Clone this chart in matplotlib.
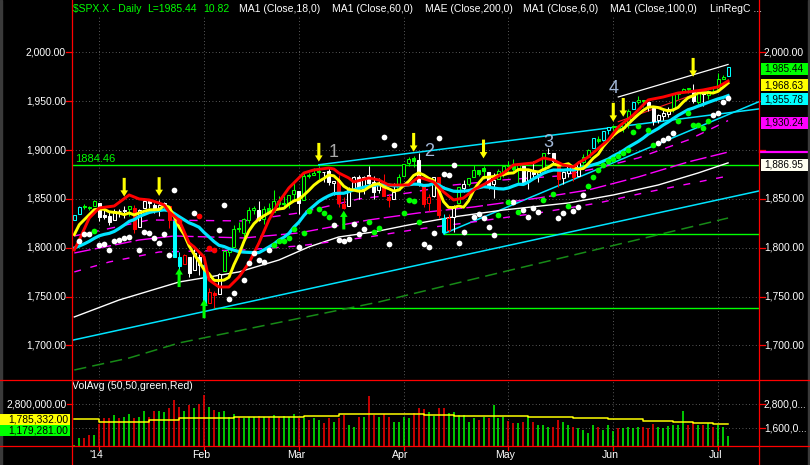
import numpy as np
import pandas as pd
import matplotlib
matplotlib.use('Agg')
import matplotlib.pyplot as plt
import matplotlib.transforms as mtransforms
from matplotlib.patches import Rectangle
from matplotlib.lines import Line2D

plt.rcParams['font.family'] = ['Liberation Sans', 'DejaVu Sans']

# trading days on the chart: 2013-12-24 .. 2014-07-03
holidays = ['2013-12-25', '2014-01-01', '2014-01-20', '2014-02-17', '2014-04-18', '2014-05-26']
days = pd.bdate_range('2013-12-24', '2014-07-03')
days = days[~days.isin(pd.to_datetime(holidays))]

# closes before the window (Nov 29 .. Dec 23), only to warm up MA6 / MA18
warmup_close = [1805.81, 1800.90, 1795.15, 1792.81, 1785.03, 1805.09, 1808.37, 1802.62, 1782.22,
                1775.50, 1775.32, 1786.54, 1781.00, 1810.65, 1809.60, 1818.32, 1827.99]

opens = [1828.00, 1834.96, 1842.97, 1841.47, 1842.61,
         1845.86, 1833.21, 1832.31, 1828.71, 1837.90, 1839.00, 1840.06, 1841.26, 1821.36, 1840.52, 1847.99,
         1844.23, 1841.05, 1844.71, 1842.29, 1826.96, 1791.03, 1783.00, 1790.15, 1777.17, 1790.88,
         1782.68, 1743.82, 1753.38, 1752.99, 1776.01, 1796.20, 1800.45, 1820.12, 1814.82, 1828.46,
         1839.03, 1838.90, 1829.24, 1841.07, 1836.78, 1847.66, 1845.79, 1844.90, 1855.12,
         1857.68, 1849.23, 1874.05, 1874.18, 1878.52, 1877.86, 1878.26, 1866.15, 1869.06, 1845.07, 1842.81,
         1858.92, 1872.25, 1860.09, 1874.53, 1867.67, 1859.48, 1867.09, 1852.11, 1850.07, 1859.16,
         1873.96, 1886.61, 1891.43, 1890.25, 1863.92, 1845.48, 1852.64, 1872.28, 1830.65, 1818.18, 1831.45,
         1846.01, 1861.73, 1865.79, 1872.57, 1879.32, 1881.97, 1877.72, 1865.00, 1870.78, 1877.10,
         1884.39, 1885.30, 1879.45, 1883.69, 1868.53, 1877.39, 1875.27, 1880.03, 1896.75, 1897.13, 1888.16,
         1871.19, 1876.66, 1884.88, 1873.34, 1888.19, 1893.32, 1902.01, 1911.77, 1910.60, 1920.33,
         1923.87, 1923.07, 1923.06, 1928.52, 1942.41, 1948.97, 1950.34, 1949.37, 1943.35, 1930.80, 1934.84,
         1937.15, 1942.73, 1957.50, 1960.45, 1962.92, 1961.97, 1949.27, 1959.89, 1956.56, 1960.79,
         1962.29, 1973.06, 1975.88]
highs = [1833.32, 1842.84, 1844.89, 1842.47, 1849.44,
         1845.86, 1838.24, 1837.16, 1840.10, 1840.02, 1843.23, 1843.15, 1843.45, 1839.26, 1850.84, 1847.99,
         1846.04, 1849.31, 1846.87, 1842.29, 1826.96, 1795.98, 1793.87, 1790.15, 1798.77, 1793.88,
         1784.83, 1758.73, 1755.79, 1774.06, 1798.03, 1799.94, 1823.54, 1826.55, 1830.25, 1841.65,
         1842.87, 1847.50, 1842.79, 1846.13, 1858.71, 1852.91, 1852.65, 1854.53, 1867.92,
         1857.68, 1876.23, 1876.53, 1881.94, 1883.57, 1877.87, 1882.35, 1868.38, 1874.40, 1852.44, 1862.30,
         1873.76, 1874.14, 1873.49, 1883.97, 1873.34, 1871.87, 1875.92, 1855.55, 1866.63, 1875.18,
         1885.84, 1893.17, 1893.80, 1897.28, 1864.04, 1854.95, 1872.43, 1872.53, 1835.07, 1834.19, 1844.02,
         1862.31, 1869.63, 1871.89, 1884.89, 1879.75, 1884.06, 1877.72, 1877.01, 1880.60, 1885.20,
         1888.59, 1891.33, 1885.51, 1883.69, 1878.83, 1889.07, 1878.57, 1897.13, 1902.17, 1897.13, 1888.16,
         1878.28, 1886.00, 1884.88, 1888.80, 1896.33, 1901.26, 1912.28, 1914.46, 1920.03, 1924.03,
         1925.88, 1925.07, 1928.63, 1941.74, 1949.44, 1955.55, 1950.86, 1949.37, 1943.35, 1937.30, 1941.15,
         1943.69, 1957.74, 1959.87, 1963.91, 1963.74, 1968.17, 1960.83, 1959.89, 1961.47, 1964.24,
         1978.58, 1976.67, 1985.59]
lows = [1828.00, 1834.96, 1839.81, 1838.77, 1842.41,
        1827.74, 1829.13, 1823.73, 1828.71, 1831.40, 1830.38, 1832.43, 1815.52, 1821.36, 1840.52, 1840.30,
        1835.23, 1832.38, 1840.88, 1820.06, 1790.29, 1772.88, 1783.00, 1770.45, 1777.17, 1772.26,
        1739.66, 1743.82, 1737.92, 1752.99, 1776.01, 1791.83, 1800.41, 1815.97, 1809.22, 1825.59,
        1835.01, 1826.99, 1824.58, 1835.60, 1836.78, 1840.19, 1840.66, 1841.13, 1847.67,
        1834.44, 1849.23, 1871.11, 1874.18, 1870.56, 1867.04, 1863.88, 1854.38, 1841.86, 1839.57, 1842.81,
        1858.92, 1850.35, 1854.63, 1863.46, 1849.69, 1855.96, 1852.56, 1842.11, 1850.07, 1859.16,
        1873.96, 1883.79, 1882.65, 1863.26, 1841.48, 1837.49, 1852.38, 1830.87, 1814.36, 1815.80, 1816.29,
        1846.01, 1856.72, 1863.18, 1872.57, 1873.91, 1870.24, 1859.70, 1850.61, 1870.78, 1872.69,
        1878.04, 1878.50, 1866.77, 1867.72, 1859.79, 1870.05, 1867.02, 1880.03, 1896.06, 1885.77, 1862.36,
        1864.82, 1872.42, 1868.14, 1873.34, 1885.39, 1893.32, 1902.01, 1907.30, 1909.82, 1916.64,
        1915.98, 1918.79, 1918.60, 1922.93, 1942.41, 1947.16, 1944.64, 1940.08, 1925.78, 1927.69, 1930.91,
        1933.55, 1939.29, 1952.26, 1959.17, 1958.89, 1948.34, 1947.49, 1944.69, 1952.18, 1958.22,
        1962.29, 1972.58, 1975.88]
closes = [1833.32, 1842.02, 1841.40, 1841.07, 1848.36,
          1831.98, 1831.37, 1826.77, 1837.88, 1837.49, 1838.13, 1842.37, 1819.20, 1838.88, 1848.38, 1845.89,
          1838.70, 1843.80, 1844.86, 1828.46, 1790.29, 1781.56, 1792.50, 1774.20, 1794.19, 1782.59,
          1741.89, 1755.20, 1751.64, 1773.43, 1797.02, 1799.84, 1819.75, 1819.26, 1829.83, 1838.63,
          1840.76, 1828.75, 1839.78, 1836.25, 1847.61, 1845.12, 1845.16, 1854.29, 1859.45,
          1845.73, 1873.91, 1873.81, 1877.03, 1878.04, 1877.17, 1867.63, 1868.20, 1846.34, 1841.13, 1858.83,
          1872.25, 1860.77, 1872.01, 1866.52, 1857.44, 1865.62, 1852.56, 1849.04, 1857.62, 1872.34,
          1885.52, 1890.90, 1888.77, 1865.09, 1845.04, 1851.96, 1872.18, 1833.08, 1815.69, 1830.61, 1842.98,
          1862.31, 1864.85, 1871.89, 1879.55, 1875.39, 1878.61, 1863.40, 1869.43, 1878.33, 1883.95,
          1883.68, 1881.14, 1884.66, 1867.72, 1878.21, 1875.63, 1878.48, 1896.65, 1897.45, 1888.53, 1870.85,
          1877.86, 1885.08, 1872.83, 1888.03, 1892.49, 1900.53, 1911.91, 1909.78, 1920.03, 1923.57,
          1924.97, 1924.24, 1927.88, 1940.46, 1949.44, 1951.27, 1950.79, 1943.89, 1930.11, 1936.16, 1937.78,
          1941.99, 1956.98, 1959.48, 1962.87, 1962.61, 1949.98, 1959.53, 1957.22, 1960.96, 1960.23,
          1973.32, 1974.62, 1985.44]

# candle colours as drawn by the charting package (c=cyan g=green w=white r=red)
candle_code = ("ccggg" + "wwwwwwgrwwwwwwrccrwww" + "crrwgggggggwggggggg" + "wggggwwwrrwwwwwwwrrwg"
               + "gggwrrwrcrwgwggggwwgg" + "gggwwwwgwwrwwrwggcgcc" + "ggggcggwwwwwggggwgwgg" + "ggc")

# volume (millions, same units as the panel labels)
volume = [0.75, 1.08, 1.08, 1.25, 1.25,
          1.78, 2.08, 2.12, 2.25, 2.12, 2.17, 2.28, 2.12, 2.17, 2.45, 2.17, 2.45, 2.45, 2.42, 2.58, 3.0,
          2.67, 2.45, 2.75, 2.58, 2.78,
          3.25, 2.67, 2.5, 2.38, 2.45, 2.17, 2.28, 2.17, 2.12, 2.17, 2.17, 2.22, 2.17, 2.17, 2.25, 2.17,
          2.22, 2.17, 2.28,
          2.12, 2.08, 2.0, 2.08, 2.0, 1.83, 2.08, 1.92, 2.12, 2.25, 1.75, 1.67, 2.17, 2.17, 3.22, 2.25,
          2.17, 2.28, 2.17, 1.92, 1.92,
          2.17, 2.12, 2.33, 2.58, 2.53, 2.42, 2.22, 2.58, 2.58, 2.33, 2.38, 2.25, 2.25, 1.92, 2.12, 2.0,
          2.17, 2.12, 2.75, 2.12, 2.17,
          1.95, 1.87, 1.83, 1.92, 2.17, 1.92, 1.75, 1.75, 1.67, 1.67, 2.0, 1.92, 1.75, 1.67, 1.62, 1.5,
          1.33, 1.75, 1.67, 1.5, 1.75,
          1.45, 1.58, 1.62, 1.67, 1.58, 1.67, 1.67, 1.58, 1.78, 1.67, 1.62, 1.72, 1.75, 1.75, 2.45, 1.75,
          1.92, 1.75, 1.75, 1.83, 1.67,
          1.75, 1.67, 1.179281]
volavg_bar = [0, 5, 15, 21, 27, 32, 46, 53, 70, 76, 91, 100, 107, 114, 120, 124, 128, 131]
volavg_val = [2.03, 1.92, 2.0, 2.08, 2.12, 2.17, 2.2, 2.28, 2.25, 2.22, 2.17, 2.12, 2.03, 1.97, 1.88,
              1.83, 1.785332, 1.785332]

# other studies (bar number, price)
red_bar = [0, 1, 3, 5, 8, 11, 13, 15, 17, 18, 19, 21, 23, 24, 26, 27, 29, 31, 33, 35, 37, 39, 41, 43,
           46, 48, 51, 52, 53, 55, 56, 59, 61, 63, 67, 69, 72, 74, 76, 78, 80, 83, 86, 88, 92, 94, 96,
           98, 100, 101, 103, 107, 109, 112, 115, 118, 121, 123, 126, 129, 131]
red_val = [1797.8, 1808.0, 1830.5, 1840.8, 1842.8, 1854.1, 1850.0, 1849.0, 1845.9, 1843.9, 1836.7,
           1828.5, 1805.0, 1800.9, 1790.6, 1767.1, 1759.9, 1759.9, 1770.1, 1784.5, 1804.9, 1828.5,
           1846.9, 1861.3, 1876.6, 1879.7, 1881.7, 1880.7, 1876.6, 1871.5, 1867.4, 1871.5, 1869.5,
           1864.3, 1864.3, 1872.5, 1867.4, 1857.2, 1849.0, 1851.0, 1859.2, 1867.4, 1876.6, 1884.8,
           1886.9, 1892.0, 1889.9, 1884.8, 1882.8, 1886.9, 1893.0, 1910.4, 1923.7, 1936.0, 1951.4,
           1954.4, 1958.5, 1959.6, 1961.6, 1964.7, 1970.8]
ma100_bar = [0, 9, 21, 33, 41, 47, 53, 60, 67, 76, 86, 99, 108, 117, 125, 131]
ma100_val = [1729.2, 1746.6, 1765.0, 1775.3, 1787.5, 1800.9, 1811.1, 1816.2, 1823.4, 1831.6, 1838.7,
             1845.9, 1854.1, 1864.3, 1876.6, 1886.95]
ma200_bar = [0, 11, 21, 61, 85, 131]
ma200_val = [1674.9, 1687.2, 1702.6, 1744.5, 1774.2, 1830.5]
mag_up_bar = [0, 15, 34, 45, 57, 67, 76, 86, 97, 105, 113, 123, 131]
mag_up_val = [1812.1, 1828.5, 1827.5, 1835.7, 1850.0, 1856.2, 1864.3, 1869.5, 1873.5, 1881.7, 1892.0,
              1910.4, 1930.24]
mag_mid_bar = [0, 13, 20, 34, 45, 59, 69, 80, 93, 103, 113, 123, 131]
mag_mid_val = [1794.7, 1808.0, 1812.1, 1810.1, 1815.2, 1828.5, 1835.7, 1841.8, 1851.0, 1859.2, 1872.5,
               1887.9, 1898.0]
mag_lo_bar = [0, 7, 17, 34, 45, 59, 69, 80, 93, 105, 115, 125, 131]
mag_lo_val = [1775.3, 1785.5, 1795.7, 1797.8, 1801.9, 1811.1, 1819.3, 1826.5, 1835.7, 1845.9, 1857.2,
              1867.4, 1873.5]

trend_lo_bar, trend_lo_val = [-0.46, 137.2], [1705.3, 1858.2]
trend_mid_bar, trend_mid_val = [74, 137.2], [1814.4, 1949.6]
trend_up_bar, trend_up_val = [49, 137.2], [1885.0, 1942.2]
chan_up_bar, chan_up_val = [109, 131], [1954.4, 1987.7]
chan_mid_bar, chan_mid_val = [109, 131], [1929.1, 1969.5]
level_val = [1884.46, 1737.92, 1814.36]
level_start = [-0.46, 28, 74]

white_dot_bar = [1, 2, 3, 5, 6, 7, 8, 9, 10, 11, 13, 14, 15, 16, 17, 18, 19, 20, 24, 29, 30, 31, 32,
                 34, 35, 36, 37, 38, 39, 45, 52, 53, 54, 55, 56, 57, 58, 62, 63, 64, 70, 71, 72, 73, 74,
                 75, 76, 77, 78, 80, 81, 82, 83, 84, 88, 90, 91, 92, 93, 97, 98, 100, 101, 102, 117,
                 118, 119, 120, 128, 129, 130, 131]
white_dot_val = [1807.0, 1814.2, 1814.2, 1802.9, 1803.9, 1797.8, 1807.0, 1808.0, 1810.1, 1811.1,
                 1797.8, 1816.2, 1815.2, 1810.1, 1804.9, 1814.2, 1792.7, 1859.2, 1835.7, 1818.3,
                 1843.9, 1747.6, 1753.7, 1767.1, 1784.5, 1794.7, 1787.5, 1785.5, 1797.8, 1800.9,
                 1822.9, 1807.5, 1807.0, 1809.0, 1824.4, 1814.2, 1819.3, 1913.5, 1803.9, 1905.3,
                 1803.9, 1800.9, 1815.2, 1912.4, 1875.6, 1874.1, 1884.8, 1804.9, 1816.2, 1831.9,
                 1834.3, 1830.9, 1821.8, 1812.8, 1847.4, 1838.7, 1831.3, 1840.5, 1836.4, 1830.2,
                 1835.4, 1837.7, 1841.5, 1853.6, 1907.0, 1910.4, 1912.1, 1917.6, 1935.7, 1938.1,
                 1949.6, 1953.7]
green_dot_bar = [4, 40, 41, 42, 43, 44, 46, 47, 49, 50, 51, 59, 60, 61, 66, 67, 68, 69, 85, 87, 89, 94,
                 96, 99, 103, 104, 105, 106, 107, 108, 109, 110, 111, 112, 113, 115, 116, 121, 123,
                 124, 125, 126, 127]
green_dot_val = [1817.2, 1802.6, 1807.0, 1807.3, 1809.6, 1819.0, 1814.9, 1837.4, 1839.5, 1835.4,
                 1831.9, 1826.5, 1815.7, 1820.0, 1835.4, 1849.0, 1848.2, 1826.5, 1833.3, 1847.0,
                 1836.7, 1848.7, 1854.9, 1842.5, 1863.0, 1872.8, 1880.0, 1884.3, 1888.6, 1890.8,
                 1893.8, 1897.2, 1900.2, 1918.9, 1925.2, 1920.6, 1905.6, 1929.9, 1938.1, 1925.8,
                 1925.8, 1922.4, 1930.1]
red_dot_bar = [21, 25, 27, 28]
red_dot_val = [1827.8, 1832.6, 1799.5, 1797.8]

down_arrow_bar = [10, 17, 49, 68, 82, 108, 110, 124]
down_arrow_val = [1852.4, 1853.1, 1888.2, 1898.4, 1891.6, 1929.2, 1934.2, 1975.2]
up_arrow_bar = [21, 26, 54]
up_arrow_val = [1779.0, 1747.1, 1838.0]
wave_labels = ['1', '2', '3', '4']
wave_bar = [52, 71, 95, 108]
wave_val = [1898.0, 1899.0, 1907.3, 1963.6]

price_ticks = [1700, 1750, 1800, 1850, 1900, 1950, 2000]
right_price_ticks = [1700, 1750, 1800, 1850, 2000]   # the others sit behind the value boxes
month_labels = ["'14", 'Feb', 'Mar', 'Apr', 'May', 'Jun', 'Jul']

# ------------------------------------------------------------------
W, H = 810, 465
fig = plt.figure(figsize=(W / 100, H / 100), dpi=100, facecolor='black')


def fx(px):
    return px / W


def fy(py):
    return 1 - py / H


ax = fig.add_axes([fx(72), fy(378), fx(759) - fx(72), fy(17) - fy(378)])
axv = fig.add_axes([fx(72), fy(446), fx(759) - fx(72), fy(381) - fy(446)])
for a in (ax, axv):
    a.set_facecolor('black')
    a.set_xticks([])
    a.set_yticks([])
    for s in a.spines.values():
        s.set_visible(False)
    a.set_xlim(-0.46, 137.2)
ax.set_ylim(1666.7, 2036.3)
axv.set_ylim(0.7e6, 3.95e6)

bar = np.arange(len(closes))
o, hi, lo, c = map(np.array, (opens, highs, lows, closes))
prev = np.r_[warmup_close[-1], c[:-1]]
month_start = [i for i in range(1, len(days)) if days[i].month != days[i - 1].month]

grid_kw = dict(color='#777777', lw=0.6, ls=(0, (1, 3)), zorder=0)
for p in price_ticks:
    ax.axhline(p, **grid_kw)
for m in month_start:
    ax.axvline(m, **grid_kw)
    axv.axvline(m, **grid_kw)
for v in (2.8e6, 1.6e6):
    axv.axhline(v, **grid_kw)

# levels and trend lines
for v, s in zip(level_val, level_start):
    ax.plot([s, 137.2], [v, v], color='#00ff00', lw=1.0, zorder=2)
for bx, by in ((trend_lo_bar, trend_lo_val), (trend_mid_bar, trend_mid_val), (trend_up_bar, trend_up_val)):
    ax.plot(bx, by, color='#00e5ff', lw=1.1, zorder=2)
ax.plot(chan_up_bar, chan_up_val, color='white', lw=0.9, zorder=2)
ax.plot(chan_mid_bar, chan_mid_val, color='#ff2020', lw=0.8, zorder=2)

ax.plot(ma200_bar, ma200_val, color='#178a17', lw=1.1, ls=(0, (8, 4)), zorder=2)
ax.plot(ma100_bar, ma100_val, color='white', lw=1.0, zorder=2)
ax.plot(mag_up_bar, mag_up_val, color='#ff00ff', lw=1.0, ls=(0, (6, 6)), zorder=2)
ax.plot(mag_mid_bar, mag_mid_val, color='#ff00ff', lw=1.0, ls=(0, (12, 3)), zorder=2)
ax.plot(mag_lo_bar, mag_lo_val, color='#ff00ff', lw=1.0, ls=(0, (5, 7)), zorder=2)

# candles
cmap = {'c': '#00ffff', 'g': '#00ff00', 'w': '#ffffff', 'r': '#ff0000'}
cols = np.array([cmap[k] for k in candle_code])
ax.vlines(bar, lo, hi, colors=cols, lw=0.75, zorder=3)
up = c >= o
body_lo = np.minimum(o, c)
body_h = np.maximum(np.abs(c - o), 0.7)
ax.bar(bar[up], body_h[up], bottom=body_lo[up], width=0.6, facecolor='black',
       edgecolor=cols[up], linewidth=0.75, zorder=4)
ax.bar(bar[~up], body_h[~up], bottom=body_lo[~up], width=0.6, facecolor=cols[~up],
       edgecolor=cols[~up], linewidth=0.75, zorder=4)

# moving averages of the close
all_close = pd.Series(warmup_close + closes)
ma6 = all_close.rolling(6).mean().iloc[len(warmup_close):].values
ma18 = all_close.rolling(18).mean().iloc[len(warmup_close):].values
ax.plot(bar, ma18, color='#00e5ff', lw=2.3, zorder=5)
ax.plot(bar, ma6, color='#ffff00', lw=2.1, zorder=6)
ax.plot(red_bar, red_val, color='#ff0000', lw=2.1, zorder=7)

# study dots
ax.scatter(white_dot_bar, white_dot_val, s=17, color='white', lw=0, zorder=8)
ax.scatter(green_dot_bar, green_dot_val, s=17, color='#00ff00', lw=0, zorder=8)
ax.scatter(red_dot_bar, red_dot_val, s=17, color='#ff0000', lw=0, zorder=8)

arrow_style = 'simple,head_length=0.45,head_width=0.55,tail_width=0.22'
for b, p in zip(down_arrow_bar, down_arrow_val):
    ax.annotate('', xy=(b, p), xytext=(0, 13.5), textcoords='offset points', zorder=9,
                arrowprops=dict(arrowstyle=arrow_style, fc='#ffff00', ec='none',
                                shrinkA=0, shrinkB=0, mutation_scale=10))
for b, p in zip(up_arrow_bar, up_arrow_val):
    ax.annotate('', xy=(b, p), xytext=(0, -13.5), textcoords='offset points', zorder=9,
                arrowprops=dict(arrowstyle=arrow_style, fc='#00ff00', ec='none',
                                shrinkA=0, shrinkB=0, mutation_scale=10))
for t, b, p in zip(wave_labels, wave_bar, wave_val):
    ax.text(b, p, t, color='#a8a8a8' if t == '1' else '#a3b9d9', fontsize=13,
            ha='center', va='center', zorder=9)

ax.text(0.2, 1884.46 + 6.5, '1884.46', color='#00ff00', fontsize=8, ha='left', va='center', zorder=9)

# volume panel
vcol = ['#00ff00' if c[i] >= prev[i] else '#ff0000' for i in range(len(c))]
axv.vlines(bar, 0, np.array(volume) * 1e6, colors=vcol, lw=1.1, zorder=2)
axv.plot(volavg_bar, np.array(volavg_val) * 1e6, color='#ffff00', lw=1.1, drawstyle='steps-post', zorder=3)

# frame lines
for xp in (72, 759):
    fig.add_artist(Line2D([fx(xp), fx(xp)], [0, 1], color='#ff0000', lw=0.9, transform=fig.transFigure))
for yp in (380, 446):
    fig.add_artist(Line2D([0, 1], [fy(yp), fy(yp)], color='#ff0000', lw=0.9, transform=fig.transFigure))
fig.add_artist(Rectangle((0, 0), fx(2), 1, transform=fig.transFigure, color='#3a3a3a'))
fig.add_artist(Rectangle((fx(808), 0), fx(2), 1, transform=fig.transFigure, color='#3a3a3a'))

# axis labels
lab = dict(color='white', fontsize=7.4, va='center')
pblend = mtransforms.blended_transform_factory(fig.transFigure, ax.transData)
for p in price_ticks:
    ax.text(fx(66), p, f'{p:,.2f}', transform=pblend, ha='right', **lab)
    ax.add_line(Line2D([fx(66), fx(72)], [p, p], transform=pblend, color='#ff0000', lw=0.9, clip_on=False))
for p in right_price_ticks:
    ax.text(fx(764), p, f'{p:,.2f}', transform=pblend, ha='left', **lab)
for p in price_ticks:
    ax.add_line(Line2D([fx(759), fx(765)], [p, p], transform=pblend, color='#ff0000', lw=0.9, clip_on=False))

# last-value boxes on the right, pushed apart so they do not overlap
last_boxes = [(c[-1], '#00ff00'), (ma6[-1], '#ffff00'), (ma18[-1], '#00ffff'),
              (mag_up_val[-1], '#ff00ff'), (ma100_val[-1], '#fffff0')]
to_px = ax.transData.transform
prev_y = -1e9
for v, col in last_boxes:
    ypx = H - to_px((0, v))[1] + 2
    ypx = max(ypx, prev_y + 14)
    prev_y = ypx
    fig.add_artist(Rectangle((fx(761), fy(ypx + 6)), fx(47), 12 / H, transform=fig.transFigure,
                             facecolor=col, edgecolor='none', zorder=10))
    fig.text(fx(764), fy(ypx), f'{v:,.2f}', color='black', fontsize=7.2, ha='left', va='center', zorder=11)
ax.add_line(Line2D([fx(760), fx(808)], [mag_mid_val[-1]] * 2, transform=pblend, color='#ff00ff',
                   lw=1.6, clip_on=False, zorder=10))

vblend = mtransforms.blended_transform_factory(fig.transFigure, axv.transData)
axv.text(fx(67), 2.8e6, '2,800,000.00', transform=vblend, ha='right', **lab)
axv.add_line(Line2D([fx(67), fx(72)], [2.8e6] * 2, transform=vblend, color='#ff0000', lw=0.9, clip_on=False))
axv.text(fx(764), 2.8e6, '2,800,0...', transform=vblend, ha='left', **lab)
axv.text(fx(764), 1.6e6, '1,600,0...', transform=vblend, ha='left', **lab)
for v in (2.8e6, 1.6e6):
    axv.add_line(Line2D([fx(759), fx(765)], [v, v], transform=vblend, color='#ff0000', lw=0.9, clip_on=False))

for txt, col, y0 in ((f'{volavg_val[-1] * 1e6:,.2f}', '#ffff00', 414), (f'{volume[-1] * 1e6:,.2f}', '#00ff00', 425)):
    fig.add_artist(Rectangle((0, fy(y0 + 11)), fx(70), 11 / H, transform=fig.transFigure,
                             facecolor=col, edgecolor='none'))
    fig.text(fx(68), fy(y0 + 5.5), txt, color='black', fontsize=7.4, ha='right', va='center')

axv.text(0.0, 1.0, 'VolAvg (50,50,green,Red)', transform=axv.transAxes, color='white',
         fontsize=7.6, ha='left', va='top')

dblend = mtransforms.blended_transform_factory(ax.transData, fig.transFigure)
for m, t in zip(month_start, month_labels):
    fig.text(m - 0.6, fy(455), t, transform=dblend, color='white', fontsize=7.6, ha='center', va='center')
    fig.add_artist(Line2D([m, m], [fy(446), fy(450)], transform=dblend, color='#ff0000', lw=0.9))

# header line
tpos = fy(9)
hdr = dict(fontsize=7.5, va='center')
fig.text(fx(73), tpos, '$SPX.X - Daily', color='#00ff00', **hdr)
fig.text(fx(147), tpos, f'L={c[-1]:.2f}', color='#00ff00', **hdr)
fig.text(fx(203), tpos, f'{c[-1] - c[-2]:.2f}', color='#00ff00', **hdr)
studies = ['MA1 (Close,18,0)', 'MA1 (Close,60,0)', 'MAE (Close,200,0)', 'MA1 (Close,6,0)',
           'MA1 (Close,100,0)', 'LinRegC ...']
for t, xp in zip(studies, [238.6, 331.6, 424.6, 522.7, 610.5, 710.2]):
    fig.text(fx(xp), tpos, t, color='white', **hdr)

fig.savefig('out.png', dpi=100, facecolor='black')
